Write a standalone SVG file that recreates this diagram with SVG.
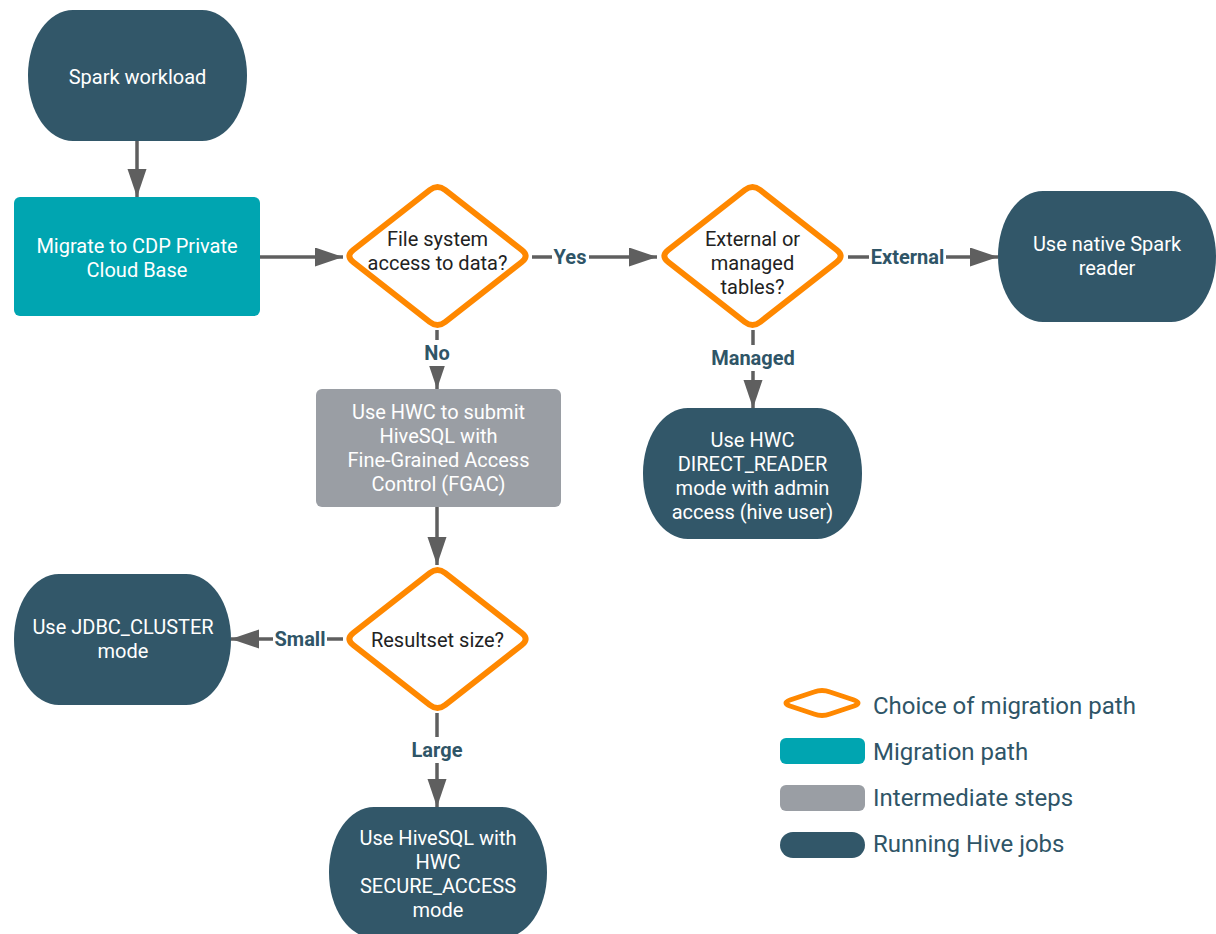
<svg xmlns="http://www.w3.org/2000/svg" xmlns:xlink="http://www.w3.org/1999/xlink" width="1216" height="934" viewBox="0 0 1216 934">
<style>
text{font-family:Roboto,"Liberation Sans",sans-serif;}
.nt{fill:#ffffff;font-size:20px;text-anchor:middle;}
.dt{fill:#222222;font-size:20px;text-anchor:middle;}
.lb{fill:#2f5567;font-size:20px;font-weight:bold;text-anchor:middle;}
.lg{fill:#2f5567;font-size:24px;}
.dark{fill:#325769;}
.teal{fill:#00a5b1;}
.gray{fill:#9a9ea4;}
.dia{fill:#ffffff;stroke:#ff8800;stroke-width:6;stroke-linejoin:round;}
.con{stroke:#5f5f5f;stroke-width:3.5;fill:none;}
</style>
<defs>
<marker id="ah" markerUnits="userSpaceOnUse" markerWidth="30" markerHeight="20" refX="28" refY="9.5" orient="auto">
<path d="M0,0 L28,9.5 L0,19 Z" fill="#5f5f5f"/>
</marker>
<path id="diamond" d="M -7.7,-66 Q 0,-72 7.7,-66 L 84.3,-6 Q 92,0 84.3,6 L 7.7,66 Q 0,72 -7.7,66 L -84.3,6 Q -92,0 -84.3,-6 Z"/>
</defs>
<rect width="1216" height="934" fill="#ffffff"/>

<g id="connectors">
<line class="con" x1="137" y1="141" x2="137" y2="197" marker-end="url(#ah)"/>
<line class="con" x1="259" y1="257" x2="343" y2="257" marker-end="url(#ah)"/>
<line class="con" x1="532" y1="257" x2="657" y2="257" marker-end="url(#ah)"/>
<line class="con" x1="848" y1="257" x2="998" y2="257" marker-end="url(#ah)"/>
<line class="con" x1="753" y1="330" x2="753" y2="408" marker-end="url(#ah)"/>
<line class="con" x1="437" y1="330" x2="437" y2="389" marker-end="url(#ah)"/>
<line class="con" x1="437" y1="506" x2="437" y2="565" marker-end="url(#ah)"/>
<line class="con" x1="343" y1="639" x2="231" y2="639" marker-end="url(#ah)"/>
<line class="con" x1="437" y1="713" x2="437" y2="807" marker-end="url(#ah)"/>
<rect x="552" y="244" width="37" height="26" fill="#ffffff"/>
<text class="lb" x="570" y="264">Yes</text>
<rect x="869" y="244" width="77" height="26" fill="#ffffff"/>
<text class="lb" x="907.5" y="264">External</text>
<rect x="709" y="345" width="88" height="26" fill="#ffffff"/>
<text class="lb" x="753" y="365">Managed</text>
<rect x="422" y="340" width="30" height="26" fill="#ffffff"/>
<text class="lb" x="437" y="360">No</text>
<rect x="273" y="626" width="54" height="26" fill="#ffffff"/>
<text class="lb" x="300" y="646">Small</text>
<rect x="411" y="737" width="52" height="26" fill="#ffffff"/>
<text class="lb" x="437" y="757">Large</text>
</g>

<g id="spark-workload">
<rect class="dark" x="28" y="10" width="219" height="131" rx="45" ry="65"/>
<text class="nt" x="137.5" y="84">Spark workload</text>
</g>

<g id="migrate">
<rect class="teal" x="14" y="197" width="246" height="119" rx="6"/>
<text class="nt" x="137" y="253">Migrate to CDP Private</text>
<text class="nt" x="137" y="277">Cloud Base</text>
</g>

<g id="fs-access">
<use href="#diamond" xlink:href="#diamond" class="dia" transform="translate(437.5,256)"/>
<text class="dt" x="437.5" y="246">File system</text>
<text class="dt" x="437.5" y="270">access to data?</text>
</g>

<g id="ext-managed">
<use href="#diamond" xlink:href="#diamond" class="dia" transform="translate(752.5,256)"/>
<text class="dt" x="752.5" y="246">External or</text>
<text class="dt" x="752.5" y="270">managed</text>
<text class="dt" x="752.5" y="294">tables?</text>
</g>

<g id="native-spark">
<rect class="dark" x="998" y="191" width="218" height="131" rx="45" ry="65"/>
<text class="nt" x="1107" y="251">Use native Spark</text>
<text class="nt" x="1107" y="275">reader</text>
</g>

<g id="direct-reader">
<rect class="dark" x="643" y="408" width="219" height="131" rx="45" ry="65"/>
<text class="nt" x="752.5" y="447">Use HWC</text>
<text class="nt" x="752.5" y="471">DIRECT_READER</text>
<text class="nt" x="752.5" y="495">mode with admin</text>
<text class="nt" x="752.5" y="519">access (hive user)</text>
</g>

<g id="hwc-fgac">
<rect class="gray" x="316" y="389" width="245" height="118" rx="6"/>
<text class="nt" x="438.5" y="419">Use HWC to submit</text>
<text class="nt" x="438.5" y="443">HiveSQL with</text>
<text class="nt" x="438.5" y="467">Fine-Grained Access</text>
<text class="nt" x="438.5" y="491">Control (FGAC)</text>
</g>

<g id="resultset">
<use href="#diamond" xlink:href="#diamond" class="dia" transform="translate(437.5,639)"/>
<text class="dt" x="437.5" y="647">Resultset size?</text>
</g>

<g id="jdbc-cluster">
<rect class="dark" x="14" y="574" width="217" height="131" rx="45" ry="65"/>
<text class="nt" x="123" y="634">Use JDBC_CLUSTER</text>
<text class="nt" x="123" y="658">mode</text>
</g>

<g id="secure-access">
<rect class="dark" x="329" y="807" width="218" height="131" rx="45" ry="65"/>
<text class="nt" x="438" y="845">Use HiveSQL with</text>
<text class="nt" x="438" y="869">HWC</text>
<text class="nt" x="438" y="893">SECURE_ACCESS</text>
<text class="nt" x="438" y="917">mode</text>
</g>

<g id="legend">
<path d="M 790,700 Q 782,703 790,706 L 814,714 Q 822,717 830,714 L 854,706 Q 862,703 854,700 L 830,692 Q 822,689 814,692 Z" fill="#ffffff" stroke="#ff8800" stroke-width="5" stroke-linejoin="round"/>
<text class="lg" x="873" y="714">Choice of migration path</text>
<rect class="teal" x="780" y="738" width="85" height="26" rx="6"/>
<text class="lg" x="873" y="760">Migration path</text>
<rect class="gray" x="780" y="785" width="85" height="26" rx="6"/>
<text class="lg" x="873" y="806">Intermediate steps</text>
<rect class="dark" x="780" y="832" width="85" height="26" rx="13"/>
<text class="lg" x="873" y="852">Running Hive jobs</text>
</g>
</svg>
